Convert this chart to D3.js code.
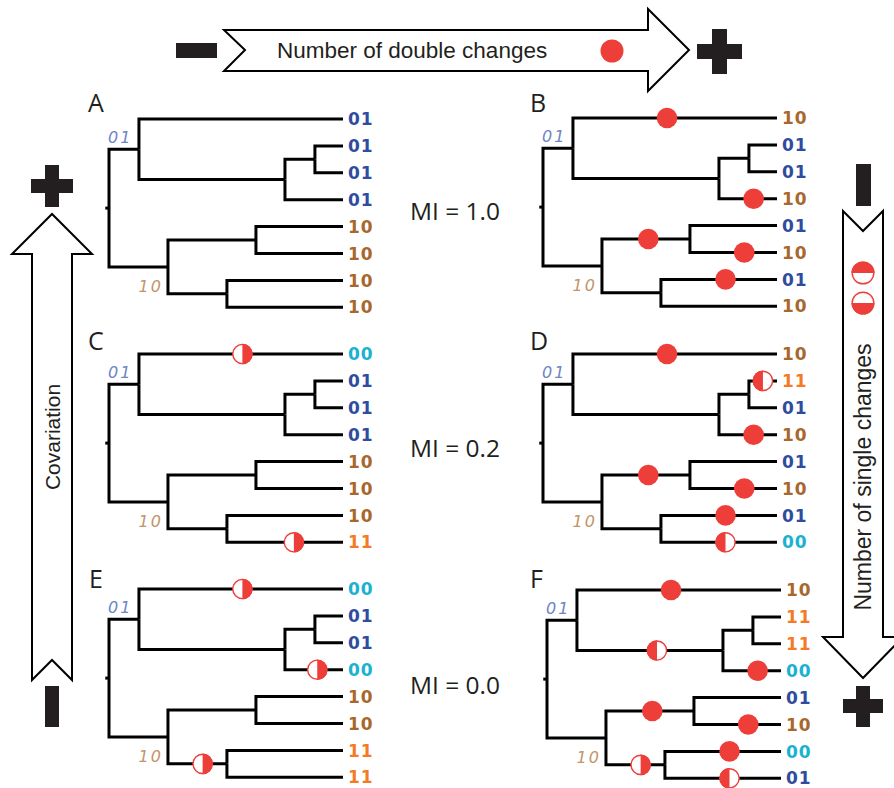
<!DOCTYPE html>
<html>
<head>
<meta charset="utf-8">
<script src="https://cdn.jsdelivr.net/npm/d3@7"></script>
<style>
  body { margin: 0; background: #fff; }
  svg { display: block; }
</style>
</head>
<body>
<svg id="chart" width="894" height="788"></svg>
<script>
// tree shared by all six panels, depth measured from the root (tips at 100)
const treeNodes = [
  { id: "root", parent: null,   depth: 0 },
  { id: "top",  parent: "root", depth: 12.8 },
  { id: "t1",   parent: "top",  depth: 100 },
  { id: "n3",   parent: "top",  depth: 75.2 },
  { id: "n4",   parent: "n3",   depth: 88 },
  { id: "t2",   parent: "n4",   depth: 100 },
  { id: "t3",   parent: "n4",   depth: 100 },
  { id: "t4",   parent: "n3",   depth: 100 },
  { id: "bot",  parent: "root", depth: 25.2 },
  { id: "n6",   parent: "bot",  depth: 62.8 },
  { id: "t5",   parent: "n6",   depth: 100 },
  { id: "t6",   parent: "n6",   depth: 100 },
  { id: "n7",   parent: "bot",  depth: 50.4 },
  { id: "t7",   parent: "n7",   depth: 100 },
  { id: "t8",   parent: "n7",   depth: 100 }
];

const panelIds = ["A", "B", "C", "D", "E", "F"];
const miLabels = ["MI = 1.0", "MI = 0.2", "MI = 0.0"];
const ancestral = ["01", "10"]; // top clade, bottom clade

// tip states t1..t8
const tipsA = ["01", "01", "01", "01", "10", "10", "10", "10"];
const tipsB = ["10", "01", "01", "10", "01", "10", "01", "10"];
const tipsC = ["00", "01", "01", "01", "10", "10", "10", "11"];
const tipsD = ["10", "11", "01", "10", "01", "10", "01", "00"];
const tipsE = ["00", "01", "01", "00", "10", "10", "11", "11"];
const tipsF = ["10", "11", "11", "00", "01", "10", "00", "01"];

// changes on branches: node = branch leading to it, at = depth, kind: full (double) / L,R (single)
const eventsA = [];
const eventsB = [
  { node: "t1", at: 53, kind: "full" }, { node: "t4", at: 90, kind: "full" },
  { node: "n6", at: 45, kind: "full" }, { node: "t6", at: 86, kind: "full" },
  { node: "t7", at: 78, kind: "full" }
];
const eventsC = [
  { node: "t1", at: 57, kind: "R" }, { node: "t8", at: 79, kind: "R" }
];
const eventsD = [
  { node: "t1", at: 53, kind: "full" }, { node: "t2", at: 94, kind: "L" },
  { node: "t4", at: 90, kind: "full" }, { node: "n6", at: 45, kind: "full" },
  { node: "t6", at: 86, kind: "full" }, { node: "t7", at: 78, kind: "full" },
  { node: "t8", at: 78, kind: "L" }
];
const eventsE = [
  { node: "t1", at: 57, kind: "R" }, { node: "t4", at: 89, kind: "R" },
  { node: "n7", at: 40, kind: "R" }
];
const eventsF = [
  { node: "t1", at: 53, kind: "full" }, { node: "n3", at: 47, kind: "L" },
  { node: "t4", at: 90, kind: "full" }, { node: "n6", at: 45, kind: "full" },
  { node: "t6", at: 86, kind: "full" }, { node: "t7", at: 78, kind: "full" },
  { node: "n7", at: 40, kind: "R" }, { node: "t8", at: 78, kind: "L" }
];

const panelTips = { A: tipsA, B: tipsB, C: tipsC, D: tipsD, E: tipsE, F: tipsF };
const panelEvents = { A: eventsA, B: eventsB, C: eventsC, D: eventsD, E: eventsE, F: eventsF };

// layout
const origin = { A: [109, 119], B: [543, 118], C: [109, 354], D: [543, 354], E: [109, 589], F: [547, 590] };
const labelPos = { A: [88, 112], B: [530, 112], C: [88, 350], D: [530, 350], E: [89, 588], F: [530, 588] };
const TREE_W = 234, TIP_GAP = 26.9, R = 10.3;
const RED = "#ee3e3a";
const stateColor = { "01": "#2f4c9e", "10": "#a8672d", "00": "#1ab2cf", "11": "#f47a25" };
const ancColor = { "01": "#6e85c6", "10": "#c3946a" };

const svg = d3.select("#chart");

function halfPath(cx, cy, r, side) {
  if (side === "R") return `M${cx},${cy - r}A${r},${r} 0 0 1 ${cx},${cy + r}Z`;
  if (side === "L") return `M${cx},${cy - r}A${r},${r} 0 0 0 ${cx},${cy + r}Z`;
  if (side === "T") return `M${cx - r},${cy}A${r},${r} 0 0 1 ${cx + r},${cy}Z`;
  return `M${cx - r},${cy}A${r},${r} 0 0 0 ${cx + r},${cy}Z`;
}

function drawMarker(g, cx, cy, r, kind) {
  if (kind === "full") {
    g.append("circle").attr("cx", cx).attr("cy", cy).attr("r", r).attr("fill", RED);
    return;
  }
  g.append("circle").attr("cx", cx).attr("cy", cy).attr("r", r - 0.7)
    .attr("fill", "#fff").attr("stroke", RED).attr("stroke-width", 1.4);
  g.append("path").attr("d", halfPath(cx, cy, r, kind)).attr("fill", RED);
}

panelIds.forEach((pid, pi) => {
  const root = d3.stratify().id(d => d.id).parentId(d => d.parent)(treeNodes);
  const [ox, oy] = origin[pid];
  const leaves = root.leaves();

  const x = d3.scaleLinear().domain([0, 100]).range([ox, ox + TREE_W]);
  const y = d3.scalePoint().domain(leaves.map(d => d.id)).range([oy, oy + TIP_GAP * (leaves.length - 1)]);

  root.eachAfter(n => {
    n.py = n.children ? (n.children[0].py + n.children[n.children.length - 1].py) / 2 : y(n.id);
    n.px = x(n.data.depth);
  });

  const g = svg.append("g").attr("class", "panel-" + pid);

  // branches
  const edges = root.descendants().filter(n => n.parent);
  g.selectAll("path.branch").data(edges).join("path")
    .attr("class", "branch")
    .attr("d", n => `M${n.parent.px},${n.parent.py}V${n.py}H${n.px}`)
    .attr("fill", "none").attr("stroke", "#000").attr("stroke-width", 3)
    .attr("stroke-linejoin", "miter");
  g.append("path").attr("d", `M${x(-1.6)},${root.py}H${root.px}`)
    .attr("stroke", "#000").attr("stroke-width", 3);

  // ancestral states
  const topN = root.children[0], botN = root.children[1];
  g.append("text").attr("x", root.px - 1).attr("y", topN.py - 6)
    .attr("fill", ancColor[ancestral[0]]).attr("font-style", "italic")
    .attr("font-family", "DejaVu Sans").attr("font-size", 16).attr("letter-spacing", 2)
    .text(ancestral[0]);
  g.append("text").attr("x", botN.px - 5).attr("y", botN.py + 25).attr("text-anchor", "end")
    .attr("fill", ancColor[ancestral[1]]).attr("font-style", "italic")
    .attr("font-family", "DejaVu Sans").attr("font-size", 16).attr("letter-spacing", 2)
    .text(ancestral[1]);

  // tip labels
  const tips = panelTips[pid];
  g.selectAll("text.tip").data(leaves).join("text")
    .attr("class", "tip")
    .attr("x", n => n.px + 5).attr("y", n => n.py).attr("dy", "0.36em")
    .attr("font-family", "DejaVu Sans").attr("font-size", 17).attr("font-weight", 600)
    .attr("letter-spacing", 1)
    .attr("fill", (n, i) => stateColor[tips[i]])
    .text((n, i) => tips[i]);

  // change markers
  const byId = new Map(root.descendants().map(n => [n.id, n]));
  panelEvents[pid].forEach(ev => {
    const n = byId.get(ev.node);
    drawMarker(g, x(ev.at), n.py, R, ev.kind);
  });

  // panel letter
  g.append("text").attr("x", labelPos[pid][0]).attr("y", labelPos[pid][1])
    .attr("font-family", "Open Sans").attr("font-size", 25).attr("fill", "#231f20")
    .text(pid);
});

// MI values between columns
svg.selectAll("text.mi").data(miLabels).join("text")
  .attr("class", "mi")
  .attr("x", 410).attr("y", (d, i) => 220 + i * 237)
  .attr("font-family", "Open Sans").attr("font-size", 24.5).attr("fill", "#231f20")
  .text(d => d);

// ---- arrows ----
const ARROW = { fill: "#fff", stroke: "#000", sw: 2 };
const dark = "#231f20";

// top horizontal arrow
svg.append("path")
  .attr("d", "M224,30H648V9L689,50L648,91V71H224L245,50Z")
  .attr("fill", ARROW.fill).attr("stroke", ARROW.stroke).attr("stroke-width", ARROW.sw)
  .attr("stroke-linejoin", "miter");
svg.append("text").attr("x", 277).attr("y", 58)
  .attr("font-family", "Liberation Sans").attr("font-size", 22.5).attr("fill", dark)
  .text("Number of double changes");
svg.append("circle").attr("cx", 612).attr("cy", 51).attr("r", 11.5).attr("fill", RED);
svg.append("rect").attr("x", 176).attr("y", 43).attr("width", 41).attr("height", 15).attr("fill", dark);
svg.append("path").attr("d", "M697,44H712V29H727V44H742V59H727V74H712V59H697Z").attr("fill", dark);

// left vertical arrow (covariation)
svg.append("path")
  .attr("d", "M32,680V254H12L52,214L92,254H72V680L52,660Z")
  .attr("fill", ARROW.fill).attr("stroke", ARROW.stroke).attr("stroke-width", ARROW.sw)
  .attr("stroke-linejoin", "miter");
svg.append("text").attr("transform", "translate(60,437) rotate(-90)")
  .attr("text-anchor", "middle")
  .attr("font-family", "Liberation Sans").attr("font-size", 21).attr("fill", dark)
  .text("Covariation");
svg.append("path").attr("d", "M45,165H59V179H73V193H59V207H45V193H31V179H45Z").attr("fill", dark);
svg.append("rect").attr("x", 45).attr("y", 686).attr("width", 14).attr("height", 41).attr("fill", dark);

// right vertical arrow (single changes)
svg.append("path")
  .attr("d", "M843,211L863,231L883,211V637H903L863,678L823,637H843Z")
  .attr("fill", ARROW.fill).attr("stroke", ARROW.stroke).attr("stroke-width", ARROW.sw)
  .attr("stroke-linejoin", "miter");
svg.append("text").attr("transform", "translate(871,477) rotate(-90)")
  .attr("text-anchor", "middle")
  .attr("font-family", "Liberation Sans").attr("font-size", 23).attr("fill", dark)
  .text("Number of single changes");
const iconG = svg.append("g");
drawMarker(iconG, 863, 273, 11.5, "T");
drawMarker(iconG, 863, 303, 11.5, "B");
svg.append("rect").attr("x", 856).attr("y", 164).attr("width", 15).attr("height", 42).attr("fill", dark);
svg.append("path").attr("d", "M856,686H870V699H883V713H870V727H856V713H843V699H856Z").attr("fill", dark);
</script>
</body>
</html>
